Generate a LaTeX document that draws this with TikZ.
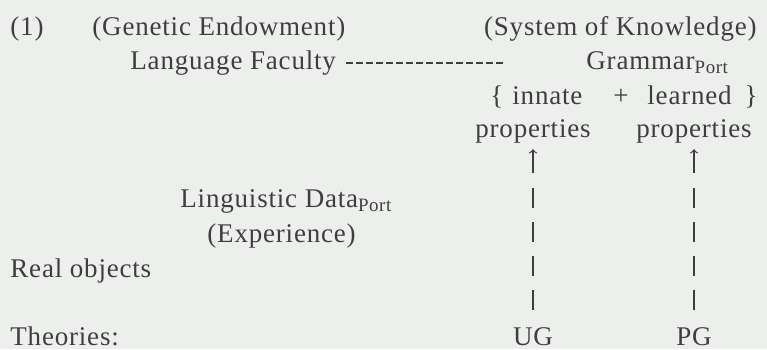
\documentclass[tikz,border=0pt]{standalone}
\usepackage{fontspec}
\setmainfont{Liberation Serif}[LetterSpace=3]
\usetikzlibrary{arrows}
\definecolor{ink}{RGB}{62,62,62}
\definecolor{paper}{RGB}{237,239,237}

\begin{document}
\begin{tikzpicture}[x=0.5pt,y=-0.5pt,>=to,
  every node/.style={inner sep=0pt,text=ink,font=\fontsize{13.5}{16}\selectfont},
  txt/.style={anchor=base west},
  rtxt/.style={anchor=base east},
  ctxt/.style={anchor=base},
  hyph/.style={ink,line width=0.7pt,dash pattern=on 3.5pt off 1.5pt},
  bar/.style={->,ink,line width=0.6pt,shorten <=8.5pt,shorten >=3pt,
    dash pattern=on 10pt off 7pt on 10pt off 7pt on 10pt off 7pt on 10pt off 7.5pt on 40pt off 0pt}]
  \fill[paper] (0,0) rectangle (767,349);
  \useasboundingbox (0,0) rectangle (767,349);
  \node[txt] (one) at (10,35) {(1)};
  \node[txt] (genetic) at (92,35) {(Genetic Endowment)};
  \node[rtxt] (system) at (757,35) {(System of Knowledge)};
  \node[txt] (lf) at (130,69) {Language Faculty};
  \node[txt] (grammar) at (586,69) {Grammar\textsubscript{Port}};
  \coordinate (hstart) at (346,63);
  \coordinate (hend) at (503,63);
  \node[txt] (lbrace) at (490,104) {\{};
  \node[txt] (innate) at (512,104) {innate};
  \node[ctxt] (plus) at (621,104) {+};
  \node[txt] (learned) at (647,104) {learned};
  \node[rtxt] (rbrace) at (758,104) {\}};
  \node[ctxt] (propin) at (533,137) {properties};
  \node[ctxt] (proplr) at (694,137) {properties};
  \node[txt] (data) at (180,207) {Linguistic Data\textsubscript{Port}};
  \node[txt] (exper) at (207,242) {(Experience)};
  \node[txt] (real) at (10,277) {Real objects};
  \node[txt] (theor) at (10,345) {Theories:};
  \node[ctxt] (ug) at (533,345) {UG};
  \node[ctxt] (pg) at (694,345) {PG};
  \draw[hyph] (hstart) -- (hend);
  \path (ug.north) edge[bar] (propin.south)
  (pg.north) edge[bar] (proplr.south)
  ;
\end{tikzpicture}
\end{document}
